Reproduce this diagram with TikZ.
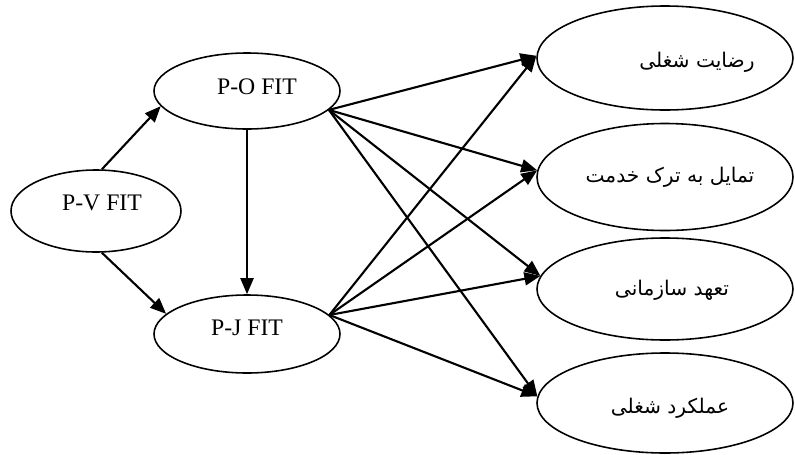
\documentclass[tikz,border=0pt]{standalone}
\usepackage{fontspec}
\setmainfont{Liberation Serif}
\newfontfamily\fafont[Script=Arabic]{DejaVu Sans}
\TeXXeTstate=1
\usetikzlibrary{shapes.geometric,arrows.meta}

\begin{document}
\begin{tikzpicture}[every node/.style={black},
	fit/.style={draw,ellipse,line width=0.9pt,inner sep=0pt,font=\fontsize{13.5}{16}\selectfont},
	outcome/.style={fit,minimum width=5.12cm},
	fa/.style={font=\fafont\fontsize{11.5}{14}\selectfont}]
	\useasboundingbox (0,0) rectangle (15.9,9.08);

	\node[fit,minimum width=3.4cm,minimum height=1.64cm] (pv) at (1.92,4.86) {};
	\node[fit,minimum width=3.72cm,minimum height=1.52cm] (po) at (4.94,7.26) {};
	\node[fit,minimum width=3.72cm,minimum height=1.56cm] (pj) at (4.94,2.40) {};
	\node[font=\fontsize{13.5}{16}\selectfont] at (2.04,5.02) {P-V FIT};
	\node[font=\fontsize{13.5}{16}\selectfont] at (5.14,7.34) {P-O FIT};
	\node[font=\fontsize{13.5}{16}\selectfont] at (4.94,2.52) {P-J FIT};

	\node[outcome,minimum height=2.08cm] (r1) at (13.3,7.92) {};
	\node[outcome,minimum height=2.14cm] (r2) at (13.3,5.54) {};
	\node[outcome,minimum height=2.04cm] (r3) at (13.3,3.30) {};
	\node[outcome,minimum height=2.0cm] (r4) at (13.3,1.02) {};
	\node[fa] at (13.94,7.84) {\beginR رضایت شغلی\endR};
	\node[fa] at (13.40,5.54) {\beginR تمایل به ترک خدمت\endR};
	\node[fa] at (13.44,3.28) {\beginR تعهد سازمانی\endR};
	\node[fa] at (13.40,0.92) {\beginR عملکرد شغلی\endR};

	\begin{scope}[line width=1.2pt,-{Triangle[length=3.2mm,width=2.6mm]}]
		\draw (pv.82) -- (po.-170);
		\draw (pv.-82) -- (pj.166);
		\draw (po.south) -- (pj.north);
		\foreach \r/\a in {r1/179,r2/177,r3/174,r4/177} {
			\draw (po.-13) -- (\r.\a);
			\draw (pj.13) -- (\r.\a);
		}
	\end{scope}
\end{tikzpicture}
\end{document}
